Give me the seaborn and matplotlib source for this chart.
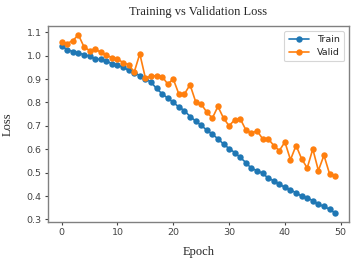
import numpy as np
import pandas as pd
import matplotlib
matplotlib.use("Agg")
import matplotlib.pyplot as plt
import seaborn as sns

epochs = list(range(50))
train_loss = [1.041, 1.026, 1.018, 1.011, 1.005, 0.998, 0.987, 0.984, 0.977, 0.966,
              0.960, 0.952, 0.937, 0.927, 0.915, 0.902, 0.887, 0.860, 0.837, 0.819,
              0.800, 0.781, 0.765, 0.740, 0.721, 0.702, 0.682, 0.664, 0.645, 0.622,
              0.603, 0.586, 0.565, 0.543, 0.518, 0.509, 0.497, 0.477, 0.465, 0.451,
              0.437, 0.426, 0.414, 0.399, 0.392, 0.380, 0.364, 0.356, 0.343, 0.327]
valid_loss = [1.059, 1.052, 1.065, 1.089, 1.038, 1.022, 1.030, 1.014, 1.003, 0.991,
              0.987, 0.970, 0.962, 0.930, 1.008, 0.905, 0.912, 0.915, 0.911, 0.879,
              0.900, 0.836, 0.836, 0.876, 0.804, 0.793, 0.759, 0.733, 0.783, 0.733,
              0.700, 0.726, 0.730, 0.683, 0.669, 0.679, 0.645, 0.645, 0.616, 0.594,
              0.631, 0.555, 0.616, 0.559, 0.520, 0.601, 0.509, 0.574, 0.495, 0.487]
series_names = ["Train", "Valid"]
y_ticks = [0.3, 0.4, 0.5, 0.6, 0.7, 0.8, 0.9, 1.0, 1.1]
x_ticks = [0, 10, 20, 30, 40, 50]

df = pd.DataFrame({
    "Epoch": epochs * 2,
    "Loss": train_loss + valid_loss,
    "Set": [series_names[0]] * len(epochs) + [series_names[1]] * len(epochs),
})

sns.set_style("ticks")
fig = plt.figure(figsize=(3.54, 2.65), dpi=100)
ax = fig.add_axes([0.1356, 0.1623, 0.8497, 0.7396])

sns.lineplot(data=df, x="Epoch", y="Loss", hue="Set", marker="o",
             palette=["#1f77b4", "#ff7f0e"], markersize=4.6, linewidth=1.2,
             markeredgewidth=0, ax=ax)

for s in ax.spines.values():
    s.set_visible(True)
    s.set_color("#808080")
    s.set_linewidth(1.0)

ax.set_xticks(x_ticks)
ax.set_yticks(y_ticks)
ax.tick_params(axis="both", labelsize=6.8, colors="#444444", length=2.5, width=0.8,
               pad=2)
ax.set_xlabel("Epoch", family="Liberation Serif", fontsize=9, labelpad=6)
ax.set_ylabel("Loss", family="Liberation Serif", fontsize=9, labelpad=9)
ax.set_title("Training vs Validation Loss", family="Liberation Serif", fontsize=9, pad=8)

leg = ax.legend(loc="upper right", fontsize=6.8, frameon=True, handlelength=2.2,
                borderpad=0.45, labelspacing=0.45)
leg.get_frame().set_edgecolor("#cccccc")
leg.get_frame().set_linewidth(0.8)

fig.savefig("out.png", dpi=100)
